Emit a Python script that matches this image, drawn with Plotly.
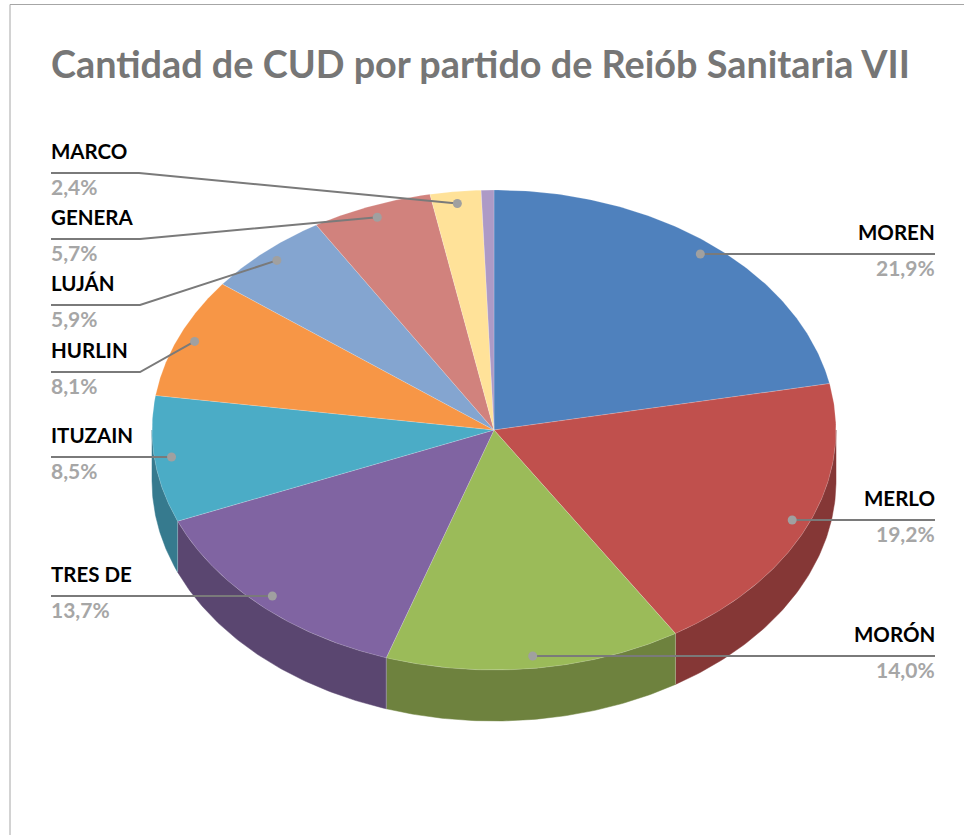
import numpy as np
import plotly.graph_objects as go

title = "Cantidad de CUD por partido de Reiób Sanitaria VII"
categories = ["MOREN", "MERLO", "MORÓN", "TRES DE", "ITUZAIN", "HURLIN", "LUJÁN", "GENERA", "MARCO", "OTROS"]
values = [21.9, 19.2, 14.0, 13.7, 8.5, 8.1, 5.9, 5.7, 2.4, 0.6]

top_colors = ["#4F81BD", "#C0504D", "#9BBB59", "#8064A2", "#4BACC6", "#F79646",
              "#84A5D0", "#D1827D", "#FFE299", "#AD9AC6"]
wall_colors = ["#375A85", "#853736", "#6E823E", "#5A4670", "#367A8E", "#AD6931",
               "#5C7492", "#925B58", "#B39E6B", "#796C8B"]

CX, CY, RX, RY, DEPTH = 494.0, 430.0, 342.0, 240.0, 51.0

# label layout: side, rule y, elbow x (None = straight rule)
label_layout = {
    "MOREN": ("right", 254, None), "MERLO": ("right", 520, None), "MORÓN": ("right", 656, None),
    "TRES DE": ("left", 596, None), "ITUZAIN": ("left", 457, None), "HURLIN": ("left", 372, 140),
    "LUJÁN": ("left", 305, 140), "GENERA": ("left", 239, 140), "MARCO": ("left", 173, 139),
}

total = sum(values)
edges = np.concatenate([[0], np.cumsum(values)]) / total * 2 * np.pi


def rim(a, drop=0.0, r=1.0):
    return CX + r * RX * np.sin(a), CY - r * RY * np.cos(a) + drop


fig = go.Figure()

# side walls (front half only: 90deg to 270deg)
for i, col in enumerate(wall_colors):
    a0, a1 = max(edges[i], np.pi / 2), min(edges[i + 1], 3 * np.pi / 2)
    if a1 <= a0:
        continue
    t = np.linspace(a0, a1, 80)
    x1, y1 = rim(t)
    x2, y2 = rim(t[::-1], DEPTH)
    fig.add_trace(go.Scatter(x=np.concatenate([x1, x2, x1[:1]]), y=np.concatenate([y1, y2, y1[:1]]),
                             mode="lines", fill="toself", fillcolor=col,
                             line=dict(color=col, width=0.5), hoverinfo="skip", showlegend=False))
    # lighter seam at each wall's start
    if edges[i] > np.pi / 2:
        sx, sy = rim(np.array([edges[i]]))
        fig.add_trace(go.Scatter(x=[sx[0], sx[0]], y=[sy[0], sy[0] + DEPTH], mode="lines",
                                 line=dict(color="rgba(255,255,255,0.3)", width=1),
                                 hoverinfo="skip", showlegend=False))

# top face
for i, col in enumerate(top_colors):
    t = np.linspace(edges[i], edges[i + 1], 120)
    x, y = rim(t)
    fig.add_trace(go.Scatter(x=np.concatenate([[CX], x, [CX]]), y=np.concatenate([[CY], y, [CY]]),
                             mode="lines", fill="toself", fillcolor=col,
                             line=dict(color="rgba(255,255,255,0.3)", width=0.6),
                             name=categories[i], text=f"{categories[i]}: {values[i]}%",
                             hoverinfo="text", showlegend=False))

annotations = [dict(x=51, y=63, xref="x", yref="y", text=f"<b>{title}</b>", showarrow=False,
                    xanchor="left", yanchor="middle", xshift=-2,
                    font=dict(family="Lato", size=37.8, color="#767676"))]

# leader lines, dots and labels
for i, name in enumerate(categories):
    if name not in label_layout:
        continue
    side, ry, elbow = label_layout[name]
    mid = (edges[i] + edges[i + 1]) / 2
    dx, dy = rim(np.array([mid]), r=0.95)
    dx, dy = float(dx[0]), float(dy[0])
    edge_x = 51 if side == "left" else 935
    if elbow is None:
        xs, ys = [edge_x, dx], [ry, ry]
    else:
        xs, ys = [edge_x, elbow, dx], [ry, ry, dy]
    fig.add_trace(go.Scatter(x=xs, y=ys, mode="lines", line=dict(color="#7A7A7A", width=2),
                             hoverinfo="skip", showlegend=False))
    fig.add_trace(go.Scatter(x=[dx], y=[ys[-1]], mode="markers",
                             marker=dict(color="#A0A0A0", size=9), hoverinfo="skip", showlegend=False))
    anchor = "left" if side == "left" else "right"
    shift = -2 if side == "left" else 2
    annotations.append(dict(x=edge_x, y=ry - 22, xref="x", yref="y", text=f"<b>{name}</b>", showarrow=False,
                            xanchor=anchor, yanchor="middle", xshift=shift,
                            font=dict(family="Lato", size=20.5, color="#000000")))
    pct = f"{values[i]:.1f}".replace(".", ",") + "%"
    annotations.append(dict(x=edge_x, y=ry + 13, xref="x", yref="y", text=f"<b>{pct}</b>", showarrow=False,
                            xanchor=anchor, yanchor="middle", xshift=shift,
                            font=dict(family="Lato", size=21, color="#A6A6A6")))

fig.update_layout(
    width=964, height=835, autosize=False,
    margin=dict(l=0, r=0, t=0, b=0),
    paper_bgcolor="white", plot_bgcolor="white",
    xaxis=dict(range=[0, 964], visible=False, fixedrange=True),
    yaxis=dict(range=[835, 0], visible=False, fixedrange=True),
    annotations=annotations,
    shapes=[
        dict(type="line", xref="x", yref="y", x0=10, x1=964, y0=4.5, y1=4.5, line=dict(color="#A6A6A6", width=1)),
        dict(type="line", xref="x", yref="y", x0=10, x1=10, y0=4.5, y1=835, line=dict(color="#A6A6A6", width=1)),
    ],
)
fig.write_html("out.html", config=dict(displayModeBar=False),
               post_script="document.body.style.margin='0';document.documentElement.style.overflow='hidden';")
